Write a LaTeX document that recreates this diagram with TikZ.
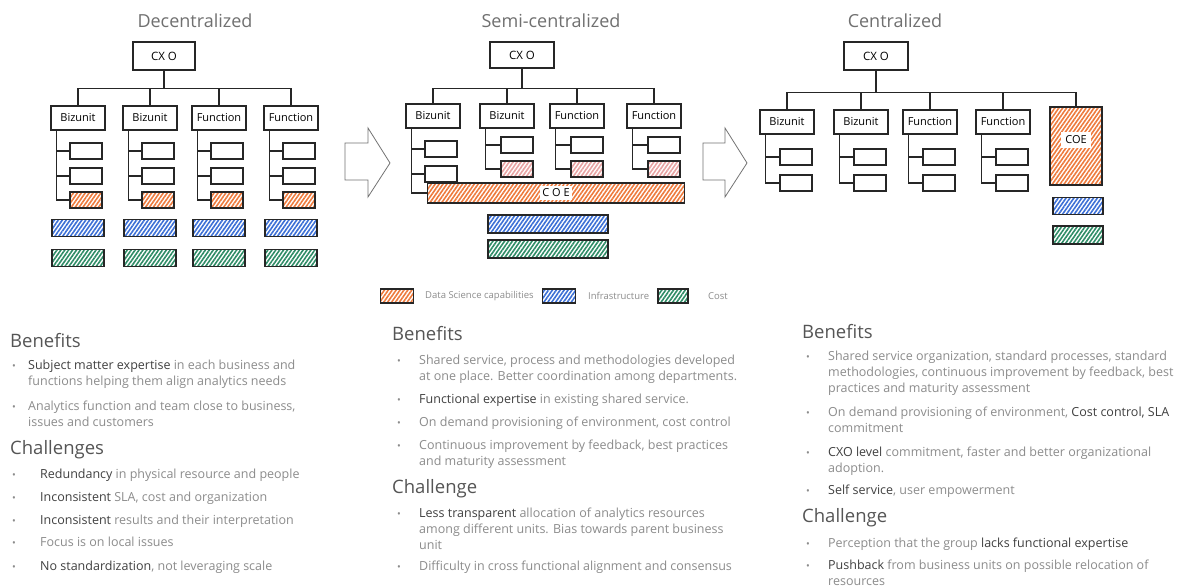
\documentclass[tikz,border=0pt]{standalone}
\usepackage{fontspec}
\setmainfont{Open Sans}
\usetikzlibrary{patterns.meta}
\definecolor{dsorange}{HTML}{EE7A3C}
\definecolor{infblue}{HTML}{3B6FD6}
\definecolor{costgreen}{HTML}{2E8C66}
\definecolor{pinkish}{HTML}{E8A3A3}
\definecolor{txtlight}{HTML}{8C8C8C}
\definecolor{txtdark}{HTML}{404040}
\definecolor{headc}{HTML}{555555}
\definecolor{titlec}{HTML}{707070}
\newcommand\hl[1]{\textcolor{txtdark}{#1}}
\tikzset{
 sk/.style={line width=1.2pt, draw=black!85},
 cxobox/.style={sk, minimum width=62pt, minimum height=28pt, inner sep=0pt, font=\fontsize{11.5}{12}\selectfont},
 unitbox/.style={sk, minimum width=54pt, minimum height=24pt, inner sep=0pt, font=\fontsize{11}{12}\selectfont},
 subbox/.style={sk, minimum width=32pt, minimum height=16pt, inner sep=0pt},
 hatch/.style={pattern={Lines[angle=55,distance=3.2pt,line width=1.6pt]}},
 dsbox/.style={subbox, hatch, pattern color=dsorange},
 pinkbox/.style={subbox, hatch, pattern color=pinkish},
 infbar/.style={sk, hatch, pattern color=infblue, minimum height=17pt, inner sep=0pt},
 costbar/.style={sk, hatch, pattern color=costgreen, minimum height=17pt, inner sep=0pt},
 wire/.style={sk},
 title/.style={text=titlec, font=\fontsize{18}{20}\selectfont},
 head/.style={text=headc, font=\fontsize{18.5}{20}\selectfont, anchor=base west, inner sep=0pt},
 item/.style={text=txtlight, font=\fontsize{12.5}{16}\selectfont, anchor=base west, align=left, inner sep=0pt},
 dot/.style={text=txtlight, font=\fontsize{10}{12}\selectfont, anchor=base west, inner sep=0pt},
 legtxt/.style={text=txtlight, font=\fontsize{9.5}{10}\selectfont, anchor=west, inner sep=0pt},
 swatch/.style={sk, hatch, minimum width=33pt, minimum height=14pt, inner sep=0pt},
 bigarrow/.style={draw=black!55, line width=0.8pt},
 coelbl/.style={fill=white, inner sep=2.5pt, font=\fontsize{11}{11}\selectfont},
}
\begin{document}
\begin{tikzpicture}[x=1pt,y=-1pt]
\useasboundingbox (0,0) rectangle (1192,588);
\fill[white] (0,0) rectangle (1192,588);

% titles
\node[title] (t1) at (195,21) {Decentralized};
\node[title] (t2) at (551,21) {Semi-centralized};
\node[title] (t3) at (895,21) {Centralized};

% ---------- Decentralized ----------
\node[cxobox] (dcxo) at (164,56) {CX O};
\foreach \n/\x/\lab in {1/78/Bizunit,2/150/Bizunit,3/219/Function,4/291/Function}{
 \node[unitbox] (du\n) at (\x,118) {\lab};
 \node[subbox] (da\n) at (\x+8,151) {};
 \node[subbox] (db\n) at (\x+8,176) {};
 \node[dsbox] (dc\n) at (\x+8,200) {};
 \node[infbar, minimum width=52pt] (di\n) at (\x,228) {};
 \node[costbar, minimum width=52pt] (dg\n) at (\x,258) {};
 \draw[wire] (dcxo.south) -- ++(0,18) -| (du\n.north);
 \draw[wire] ([xshift=6pt]du\n.south west) |- (da\n.west);
 \draw[wire] ([xshift=6pt]du\n.south west) |- (db\n.west);
 \draw[wire] ([xshift=6pt]du\n.south west) |- (dc\n.west);
}

% arrows
\draw[bigarrow] (345,143) -- (368,143) -- (368,128) -- (390,163) -- (368,197) -- (368,180) -- (345,180) -- cycle;
\draw[bigarrow] (703,143) -- (725,143) -- (725,128) -- (747,163) -- (725,197) -- (725,180) -- (703,180) -- cycle;

% ---------- Semi-centralized ----------
\node[cxobox, minimum width=64pt, minimum height=26pt] (scxo) at (522,55) {CX O};
\node[unitbox] (su1) at (433,116) {Bizunit};
\node[subbox] (sa1) at (441,149) {};
\node[subbox] (sb1) at (441,174) {};
\node[sk, hatch, pattern color=dsorange, minimum width=257pt, minimum height=20pt, inner sep=0pt] (scoe) at (556,193) {};
\node[coelbl] (scoet) at (scoe.center) {C O E};
\draw[wire] (scxo.south) -- ++(0,20) -| (su1.north);
\draw[wire] ([xshift=6pt]su1.south west) |- (sa1.west);
\draw[wire] ([xshift=6pt]su1.south west) |- (sb1.west);
\draw[wire] ([xshift=6pt]su1.south west) |- (scoe.west);
\foreach \n/\x/\lab in {2/507/Bizunit,3/577/Function,4/654/Function}{
 \node[unitbox] (su\n) at (\x,116) {\lab};
 \node[subbox] (sa\n) at (\x+10,145) {};
 \node[pinkbox] (sb\n) at (\x+10,169) {};
 \draw[wire] (scxo.south) -- ++(0,20) -| (su\n.north);
 \draw[wire] ([xshift=6pt]su\n.south west) |- (sa\n.west);
 \draw[wire] ([xshift=6pt]su\n.south west) |- (sb\n.west);
}
\node[infbar, minimum width=120pt, minimum height=18pt] (si) at (548,224) {};
\node[costbar, minimum width=120pt, minimum height=18pt] (sg) at (548,249) {};

% legend
\node[swatch, pattern color=dsorange] (lg1) at (397,296) {};
\node[legtxt] (lt1) at (425,296) {Data Science capabilities};
\node[swatch, pattern color=infblue] (lg2) at (559,296) {};
\node[legtxt] (lt2) at (588,296) {Infrastructure};
\node[swatch, pattern color=costgreen, minimum width=30pt] (lg3) at (673,296) {};
\node[legtxt] (lt3) at (708,296) {Cost};

% ---------- Centralized ----------
\node[cxobox, minimum width=64pt] (ccxo) at (876,56) {CX O};
\foreach \n/\x/\lab in {1/787/Bizunit,2/861/Bizunit,3/930/Function,4/1003/Function}{
 \node[unitbox] (cu\n) at (\x,122) {\lab};
 \node[subbox] (ca\n) at (\x+9,157) {};
 \node[subbox] (cb\n) at (\x+9,183) {};
 \draw[wire] (ccxo.south) -- ++(0,22) -| (cu\n.north);
 \draw[wire] ([xshift=6pt]cu\n.south west) |- (ca\n.west);
 \draw[wire] ([xshift=6pt]cu\n.south west) |- (cb\n.west);
}
\node[sk, hatch, pattern color=dsorange, minimum width=52pt, minimum height=78pt, inner sep=0pt] (ccoe) at (1076,146) {};
\node[coelbl, inner sep=4pt] (ccoet) at (1076,140) {COE};
\draw[wire] (ccxo.south) -- ++(0,22) -| (ccoe.north);
\node[infbar, minimum width=50pt] (ci) at (1078,206) {};
\node[costbar, minimum width=50pt, minimum height=18pt] (cg) at (1078,235) {};

% ---------- Text: left ----------
\node[head] (lh1) at (10,347) {Benefits};
\node[dot] (lb1) at (12,369) {•};
\node[item] (li1) at (28,385) {\hl{Subject matter expertise} in each business and\\functions helping them align analytics needs};
\node[dot] (lb2) at (12,410) {•};
\node[item] (li2) at (28,426) {Analytics function and team close to business,\\issues and customers};
\node[head] (lh2) at (10,454) {Challenges};
\node[dot] (lb3) at (12,478) {•};
\node[item] (li3) at (40,478) {\hl{Redundancy} in physical resource and people};
\node[dot] (lb4) at (12,501) {•};
\node[item] (li4) at (40,501) {\hl{Inconsistent} SLA, cost and organization};
\node[dot] (lb5) at (12,524) {•};
\node[item] (li5) at (40,524) {\hl{Inconsistent} results and their interpretation};
\node[dot] (lb6) at (12,546) {•};
\node[item] (li6) at (40,546) {Focus is on local issues};
\node[dot] (lb7) at (12,570) {•};
\node[item] (li7) at (40,570) {\hl{No standardization}, not leveraging scale};

% ---------- Text: middle ----------
\node[head] (mh1) at (392,340) {Benefits};
\node[dot] (mb1) at (397,364) {•};
\node[item] (mi1) at (419,380) {Shared service, process and methodologies developed\\at one place. Better coordination among departments.};
\node[dot] (mb2) at (397,403) {•};
\node[item] (mi2) at (419,403) {\hl{Functional expertise} in existing shared service.};
\node[dot] (mb3) at (397,426) {•};
\node[item] (mi3) at (419,426) {On demand provisioning of environment, cost control};
\node[dot] (mb4) at (397,449) {•};
\node[item] (mi4) at (419,465) {Continuous improvement by feedback, best practices\\and maturity assessment};
\node[head] (mh2) at (392,493) {Challenge};
\node[dot] (mb5) at (397,517) {•};
\node[item] (mi5) at (419,549) {\hl{Less transparent} allocation of analytics resources\\among different units. Bias towards parent business\\unit};
\node[dot] (mb6) at (397,570) {•};
\node[item] (mi6) at (419,570) {Difficulty in cross functional alignment and consensus};

% ---------- Text: right ----------
\node[head] (rh1) at (802,338) {Benefits};
\node[dot] (rb1) at (806,360) {•};
\node[item] (ri1) at (828,392) {Shared service organization, standard processes, standard\\methodologies, continuous improvement by feedback, best\\practices and maturity assessment};
\node[dot] (rb2) at (806,416) {•};
\node[item] (ri2) at (828,432) {On demand provisioning of environment, \hl{Cost control, SLA}\\commitment};
\node[dot] (rb3) at (806,456) {•};
\node[item] (ri3) at (828,472) {\hl{CXO level} commitment, faster and better organizational\\adoption.};
\node[dot] (rb4) at (806,494) {•};
\node[item] (ri4) at (828,494) {\hl{Self service}, user empowerment};
\node[head] (rh2) at (802,522) {Challenge};
\node[dot] (rb5) at (806,547) {•};
\node[item] (ri5) at (828,547) {Perception that the group \hl{lacks functional expertise}};
\node[dot] (rb6) at (806,569) {•};
\node[item] (ri6) at (828,585) {\hl{Pushback} from business units on possible relocation of\\resources};
\end{tikzpicture}
\end{document}
